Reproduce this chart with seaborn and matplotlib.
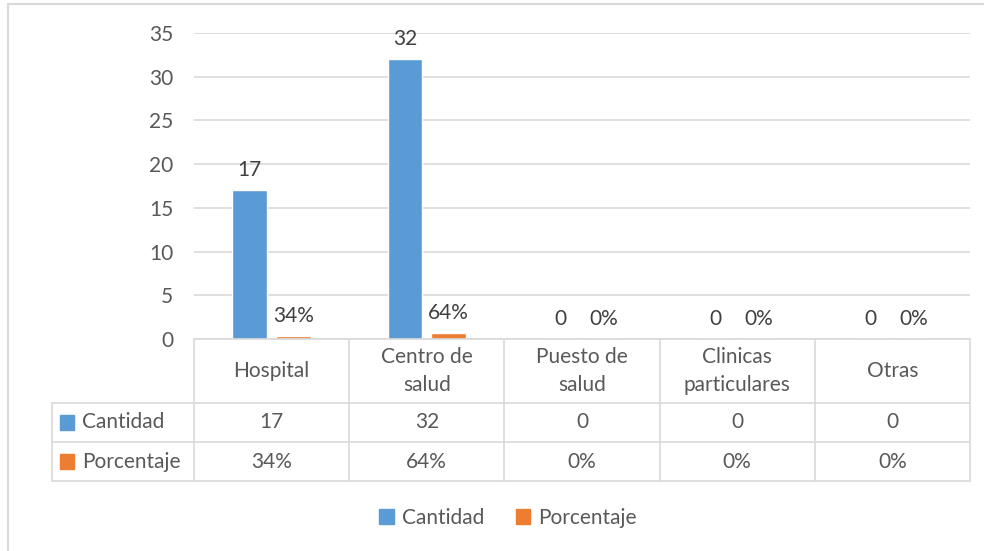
import pandas as pd
import matplotlib.pyplot as plt
import matplotlib.transforms as mtransforms
from matplotlib.patches import Rectangle
import seaborn as sns

categorias = ["Hospital", "Centro de\nsalud", "Puesto de\nsalud", "Clinicas\nparticulares", "Otras"]
cantidad = [17, 32, 0, 0, 0]
porcentaje = [0.34, 0.64, 0.0, 0.0, 0.0]
series = ["Cantidad", "Porcentaje"]
colores = ["#5B9BD5", "#ED7D31"]
texto = "#595959"
rejilla = "#D9D9D9"

df = pd.DataFrame({
    "categoria": categorias * 2,
    "serie": [series[0]] * 5 + [series[1]] * 5,
    "valor": cantidad + porcentaje,
})

sns.set_style("white")
plt.rcParams["font.family"] = ["Lato", "DejaVu Sans"]
fs = 15

fig = plt.figure(figsize=(9.84, 5.51), dpi=100)
ax = fig.add_axes([194 / 984, 1 - 339 / 551, 776 / 984, 306 / 551])

sns.barplot(data=df, x="categoria", y="valor", hue="serie", palette=colores,
            width=0.56, dodge=True, legend=False, ax=ax, saturation=1, gap=0.2)

ax.set_ylim(0, 35)
ax.set_xlim(-0.5, 4.5)
ax.set_yticks(range(0, 36, 5))
ax.yaxis.grid(True, color=rejilla, linewidth=1.2)
ax.set_axisbelow(True)
ax.tick_params(axis="y", length=0, pad=15, labelsize=fs, labelcolor=texto)
ax.set_xticks([])
ax.set_xlabel("")
ax.set_ylabel("")
for s in ["top", "right", "left", "bottom"]:
    ax.spines[s].set_visible(False)

# etiquetas de datos
for i in range(len(categorias)):
    b1 = ax.containers[0][i]
    b2 = ax.containers[1][i]
    x1 = b1.get_x() + b1.get_width() / 2
    x2 = b2.get_x() + b2.get_width() / 2
    ax.text(x1, cantidad[i] + 1.2, f"{cantidad[i]}", ha="center", va="bottom",
            color="#404040", fontsize=fs)
    ax.text(x2, porcentaje[i] + 1.2, f"{porcentaje[i]:.0%}", ha="center", va="bottom",
            color="#404040", fontsize=fs)

# tabla de datos
tr = mtransforms.blended_transform_factory(ax.transData, ax.transAxes)
h1 = 64 / 306
h2 = 39 / 306
y_filas = [0, -h1, -h1 - h2, -h1 - 2 * h2]
x_izq = -0.5 - 142 / 155.2
lw = 1.2
ax.plot([-0.5, 4.5], [0, 0], color=rejilla, lw=lw, transform=tr, clip_on=False)
for y in y_filas[1:]:
    ax.plot([x_izq, 4.5], [y, y], color=rejilla, lw=lw, transform=tr, clip_on=False)
for k in range(len(categorias) + 1):
    ax.plot([k - 0.5, k - 0.5], [0, y_filas[-1]], color=rejilla, lw=lw,
            transform=tr, clip_on=False)
ax.plot([x_izq, x_izq], [y_filas[1], y_filas[-1]], color=rejilla, lw=lw,
        transform=tr, clip_on=False)

for i, cat in enumerate(categorias):
    ax.text(i, -h1 / 2, cat, ha="center", va="center", color=texto, fontsize=fs,
            transform=tr, linespacing=1.5)
    ax.text(i, -h1 - h2 / 2, f"{cantidad[i]}", ha="center", va="center",
            color=texto, fontsize=fs, transform=tr)
    ax.text(i, -h1 - 1.5 * h2, f"{porcentaje[i]:.0%}", ha="center", va="center",
            color=texto, fontsize=fs, transform=tr)

for j, (nombre, c) in enumerate(zip(series, colores)):
    yc = -h1 - (j + 0.5) * h2
    ax.add_patch(Rectangle((x_izq + 0.05, yc - 0.024), 0.09, 0.048, color=c,
                           transform=tr, clip_on=False))
    ax.text(x_izq + 0.195, yc, nombre, ha="left", va="center", color=texto,
            fontsize=fs, transform=tr)

# leyenda
handles = [Rectangle((0, 0), 1, 1, color=c) for c in colores]
fig.legend(handles, series, loc="center", bbox_to_anchor=(508 / 984, 1 - 518 / 551),
           ncol=2, frameon=False, handlelength=0.7, handleheight=0.7,
           handletextpad=0.4, columnspacing=1.5, labelcolor=texto, fontsize=fs)

# borde exterior
fig.add_artist(plt.Line2D([8 / 984, 8 / 984], [0, 1 - 4 / 551], color=rejilla, lw=1.5))
fig.add_artist(plt.Line2D([8 / 984, 1], [1 - 4 / 551, 1 - 4 / 551], color=rejilla, lw=1.5))

fig.savefig("out.png", dpi=100)
